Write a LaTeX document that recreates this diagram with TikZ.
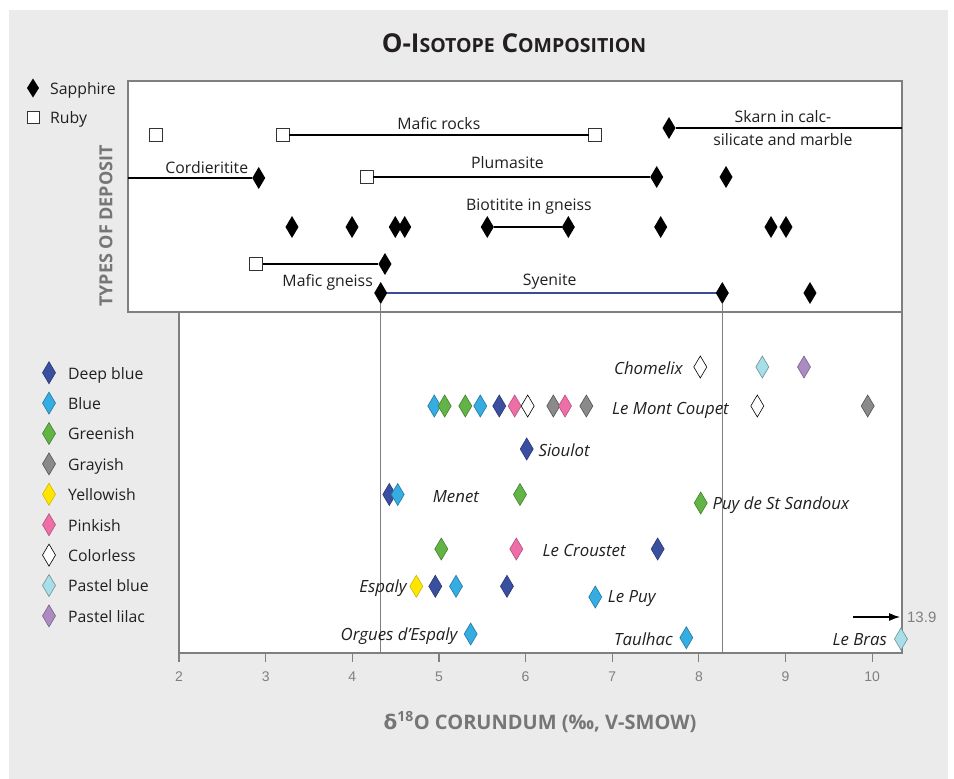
\documentclass[tikz,border=0pt]{standalone}
\usepackage{fontspec}
\setmainfont{Open Sans}
\newfontfamily\numfont{Liberation Sans}
\newfontfamily\greekfont{DejaVu Sans}
\usetikzlibrary{shapes.geometric,arrows.meta}

\definecolor{bgGray}{HTML}{EBEBEB}
\definecolor{frameGray}{HTML}{7F7F7F}
\definecolor{axGray}{HTML}{767676}
\definecolor{numGray}{HTML}{808080}
\definecolor{txtDark}{HTML}{231F20}
\definecolor{syeBlue}{HTML}{3A4A9E}
\definecolor{cDeep}{HTML}{3B4FA1}
\definecolor{cBlue}{HTML}{35ADE2}
\definecolor{cGreen}{HTML}{62B446}
\definecolor{cGray}{HTML}{8A8A8A}
\definecolor{cYellow}{HTML}{FFE500}
\definecolor{cPink}{HTML}{EE6EA7}
\definecolor{cPastel}{HTML}{A8DEE8}
\definecolor{cLilac}{HTML}{AC8BC3}

\tikzset{
  boxline/.style={draw=frameGray, line width=1.1pt},
  spanline/.style={draw=black, line width=1.2pt},
  sapph/.style={diamond, fill=black, inner sep=0pt, outer sep=0pt,
    minimum width=13pt, minimum height=22pt},
  ruby/.style={rectangle, fill=white, draw=black!80, line width=0.9pt,
    inner sep=0pt, outer sep=0pt, minimum size=13pt},
  gem/.style={diamond, inner sep=0pt, outer sep=0pt,
    minimum width=13pt, minimum height=22pt, line width=0.6pt},
  mDeep/.style={gem, fill=cDeep, draw=cDeep!70!black},
  mBlue/.style={gem, fill=cBlue, draw=cBlue!70!black},
  mGreen/.style={gem, fill=cGreen, draw=cGreen!70!black},
  mGray/.style={gem, fill=cGray, draw=cGray!60!black},
  mYellow/.style={gem, fill=cYellow, draw=cYellow!80!black},
  mPink/.style={gem, fill=cPink, draw=cPink!75!black},
  mClear/.style={gem, fill=white, draw=black},
  mPastel/.style={gem, fill=cPastel, draw=cPastel!65!black},
  mLilac/.style={gem, fill=cLilac, draw=cLilac!70!black},
  lbl/.style={font=\fontsize{15.8}{18}\selectfont, text=txtDark,
    inner sep=0pt, anchor=base},
  site/.style={lbl, font=\fontsize{16.8}{19}\selectfont\itshape},
  num/.style={font=\numfont\fontsize{14}{16}\selectfont, text=numGray,
    inner sep=0pt, anchor=base}
}

\begin{document}
\begin{tikzpicture}[x=1pt, y=-1pt]
  \useasboundingbox (0,0) rectangle (954,779);
  \fill[bgGray] (9,10) rectangle (948,779);

  % title
  \node[font=\bfseries\fontsize{26}{30}\selectfont, text=txtDark, anchor=base] (title) at (514,52)
    {O-I{\fontsize{19.5}{30}\selectfont SOTOPE} C{\fontsize{19.5}{30}\selectfont OMPOSITION}};

  % boxes
  \filldraw[boxline, fill=white] (179,312) rectangle (902,653);
  \filldraw[boxline, fill=white] (128,81) rectangle (902,312);

  % axis titles
  \node[rotate=90, font=\bfseries\fontsize{18}{20}\selectfont, text=axGray] (ytitle) at (106,226)
    {TYPES OF DEPOSIT};
  \node[font=\bfseries\fontsize{20}{22}\selectfont, text=axGray, anchor=base] (xtitle) at (540,729)
    {{\greekfont δ}\textsuperscript{18}O CORUNDUM (‰, V-SMOW)};

  % legends
  \node[sapph, minimum width=12pt, minimum height=19pt] (lgSapph) at (33,88) {};
  \node[lbl, anchor=base west] (ltSapph) at (50,94) {Sapphire};
  \node[ruby, minimum size=12pt] (lgRuby) at (33,117) {};
  \node[lbl, anchor=base west] (ltRuby) at (50,123) {Ruby};

  \foreach \s/\t [count=\i] in {mDeep/Deep blue, mBlue/Blue, mGreen/Greenish,
      mGray/Grayish, mYellow/Yellowish, mPink/Pinkish, mClear/Colorless,
      mPastel/Pastel blue, mLilac/Pastel lilac}
  {
    \node[\s] (lg\i) at (49,{372.7+30.4*(\i-1)}) {};
    \node[lbl, anchor=base west] (lt\i) at (68,{379+30.4*(\i-1)}) {\t};
  }

  % data, x in permil
  \begin{scope}[shift={(5.7,0)}, x=86.65pt]
    \coordinate (axL) at (2,653);

    % ticks
    \foreach \t in {2,...,10}
    {
      \draw[boxline] (\t,653) -- (\t,662);
      \node[num] (tk\t) at (\t,681) {\t};
    }

    % mafic rocks
    \node[ruby] (mrA) at (1.735,135) {};
    \node[ruby] (mrB) at (3.197,135) {};
    \node[ruby] (mrC) at (6.801,135) {};
    \draw[spanline] (mrB) -- (mrC);
    \node[lbl] (lMafR) at (4.998,129.3) {Mafic rocks};

    % skarn
    \node[sapph] (sk) at (7.655,128) {};
    \coordinate (skEnd) at (10.344,128);
    \draw[spanline] (sk) -- (skEnd);
    \node[lbl] (lSkA) at (8.97,122.7) {Skarn in calc-};
    \node[lbl] (lSkB) at (8.97,145.7) {silicate and marble};

    % cordieritite
    \coordinate (coStart) at (1.411,178);
    \node[sapph] (co) at (2.920,178) {};
    \draw[spanline] (coStart) -- (co);
    \node[lbl, anchor=base east] (lCord) at (2.80,173) {Cordieritite};

    % plumasite
    \node[ruby] (plA) at (4.166,177) {};
    \node[sapph] (plB) at (7.513,177) {};
    \node[sapph] (plC) at (8.313,177) {};
    \draw[spanline] (plA) -- (plB);
    \node[lbl] (lPlum) at (5.791,168.3) {Plumasite};

    % biotitite in gneiss
    \foreach \v [count=\i] in {3.304,3.997,4.496,4.605,5.558,6.493,7.559,8.832,9.005}
      \node[sapph] (bi\i) at (\v,227) {};
    \draw[spanline] (bi5) -- (bi6);
    \node[lbl] (lBiot) at (6.039,210) {Biotitite in gneiss};

    % mafic gneiss
    \node[ruby] (mgA) at (2.889,264) {};
    \node[sapph] (mgB) at (4.377,264) {};
    \draw[spanline] (mgA) -- (mgB);
    \node[lbl, anchor=base east] (lMafG) at (4.239,286.7) {Mafic gneiss};

    % syenite
    \node[sapph] (syA) at (4.328,293) {};
    \node[sapph] (syB) at (8.270,293) {};
    \node[sapph] (syC) at (9.282,293) {};
    \draw[syeBlue, line width=1.3pt] (syA) -- (syB);
    \node[lbl] (lSyen) at (6.278,285.7) {Syenite};

    % range limits
    \draw[boxline, line width=1pt] (syA) -- (syA |- axL);
    \draw[boxline, line width=1pt] (syB) -- (syB |- axL);

    % localities
    \foreach \v/\s [count=\i] in {8.016/mClear, 8.732/mPastel, 9.213/mLilac}
      \node[\s] (ch\i) at (\v,367) {};
    \node[site, anchor=base east] (lCho) at (7.816,374.3) {Chomelix};

    \foreach \v/\s [count=\i] in {4.946/mBlue, 5.066/mGreen, 5.304/mGreen, 5.477/mBlue,
        5.696/mDeep, 5.874/mPink, 6.024/mClear, 6.320/mGray, 6.455/mPink, 6.701/mGray,
        8.674/mClear, 9.948/mGray}
      \node[\s] (mc\i) at (\v,406) {};
    \node[site, anchor=base west] (lMont) at (6.997,414) {Le Mont Coupet};

    \node[mDeep] (si1) at (6.013,449) {};
    \node[site, anchor=base west] (lSiou) at (6.147,456.7) {Sioulot};

    \foreach \v/\s [count=\i] in {4.427/mDeep, 4.524/mBlue, 5.935/mGreen}
      \node[\s] (me\i) at (\v,494.5) {};
    \node[site, anchor=base west] (lMene) at (4.928,502.3) {Menet};

    \node[mGreen] (pu1) at (8.021,503) {};
    \node[site, anchor=base west] (lPuyS) at (8.155,509.3) {Puy de St Sandoux};

    \foreach \v/\s [count=\i] in {5.027/mGreen, 5.893/mPink, 7.524/mDeep}
      \node[\s] (cr\i) at (\v,549) {};
    \node[site, anchor=base west] (lCrou) at (6.193,556.7) {Le Croustet};

    \foreach \v/\s [count=\i] in {4.739/mYellow, 4.958/mDeep, 5.197/mBlue, 5.785/mDeep}
      \node[\s] (es\i) at (\v,586.3) {};
    \node[site, anchor=base east] (lEspa) at (4.628,592.3) {Espaly};

    \node[mBlue] (lp1) at (6.804,597) {};
    \node[site, anchor=base west] (lLePuy) at (6.948,602.7) {Le Puy};

    \node[mBlue] (or1) at (5.366,634) {};
    \node[site, anchor=base east] (lOrg) at (5.216,640.7) {Orgues d'Espaly};

    \node[mBlue] (ta1) at (7.855,637.7) {};
    \node[site, anchor=base east] (lTaul) at (7.701,645.7) {Taulhac};

    \node[mPastel] (lb1) at (10.332,639) {};
    \node[site, anchor=base east] (lBras) at (10.171,645.7) {Le Bras};

    % off-scale value
    \coordinate (arrS) at (9.778,617);
    \coordinate (arrE) at (10.321,617);
    \draw[-{Latex[length=11pt,width=8pt]}, line width=1.2pt] (arrS) -- (arrE);
    \node[num, font=\numfont\fontsize{15}{17}\selectfont, anchor=base west] (lOff) at (10.401,622.7) {13.9};
  \end{scope}
\end{tikzpicture}
\end{document}
